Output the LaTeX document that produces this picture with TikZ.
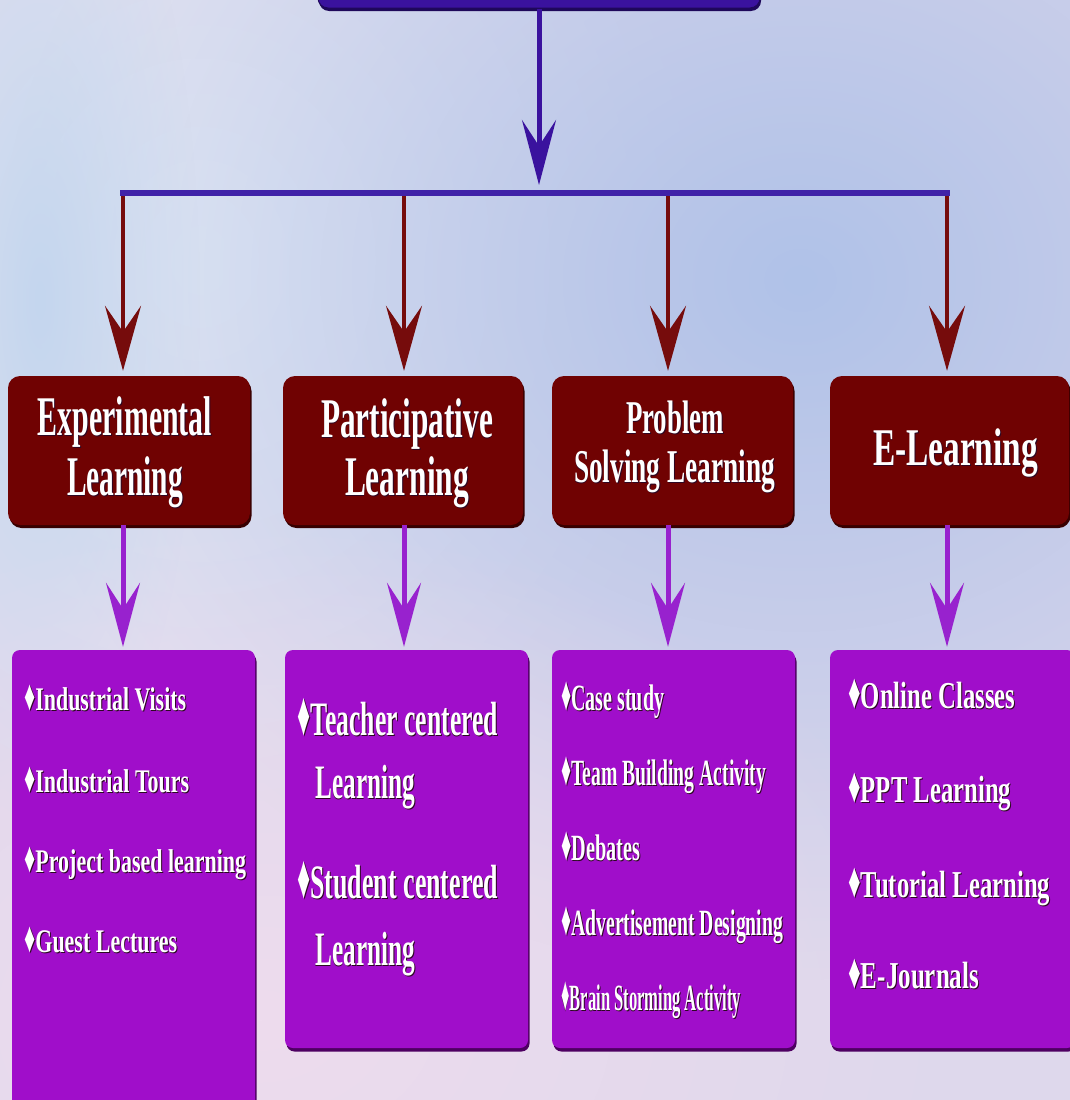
\documentclass[tikz,border=0pt]{standalone}
\usepackage{fontspec}
\setmainfont{Liberation Serif}
\usepackage{graphicx}
\usetikzlibrary{arrows.meta,shadows,fadings}
\definecolor{bgbase}{RGB}{222,216,236}
\definecolor{bgblue}{RGB}{176,194,232}
\definecolor{bgpink}{RGB}{238,220,238}
\definecolor{bglight}{RGB}{228,234,245}
\definecolor{bgstreak}{RGB}{196,214,238}
\definecolor{topblue}{RGB}{58,18,158}
\definecolor{topdark}{RGB}{30,8,90}
\definecolor{barblue}{RGB}{64,34,168}
\definecolor{maroonc}{RGB}{112,2,2}
\definecolor{maroondark}{RGB}{55,0,0}
\definecolor{mline}{RGB}{118,12,12}
\definecolor{purp}{RGB}{160,14,202}
\definecolor{purpdark}{RGB}{78,0,98}
\definecolor{parr}{RGB}{152,34,206}
\definecolor{shadowc}{RGB}{45,8,35}
\tikzfading[name=softfade, inner color=transparent!0, outer color=transparent!100]
\newcommand\dia{\scalebox{1}[1.3]{♦}}
\newcommand\shd[1]{\makebox[0pt][l]{\hspace{1.5pt}\raisebox{-1.5pt}{\color{shadowc}#1}}#1}
\newcommand\fw[2]{\resizebox{#1pt}{\height}{\shd{#2}}}
\tikzset{
  topbox/.style={rectangle, rounded corners=10pt, fill=topblue, draw=topdark, line width=1pt,
    minimum width=442pt, minimum height=48pt, inner sep=0pt,
    drop shadow={shadow xshift=1pt, shadow yshift=-3pt, fill=topdark, opacity=1}},
  mbox/.style={rectangle, rounded corners=12pt, fill=maroonc, minimum height=149pt, inner sep=0pt,
    drop shadow={shadow xshift=1.5pt, shadow yshift=-3pt, fill=maroondark, opacity=1}},
  pbox/.style={rectangle, rounded corners=8pt, fill=purp, inner sep=0pt,
    drop shadow={shadow xshift=1.5pt, shadow yshift=-3.5pt, fill=purpdark, opacity=1}},
  hdtext/.style={text=white, font=\bfseries\fontsize{56}{60}\selectfont, anchor=base, inner sep=0pt},
  itext/.style={text=white, anchor=base west, inner sep=0pt},
  marr/.style={draw=mline, line width=4.5pt, shorten >=5pt,
    -{Stealth[length=65pt, width=36pt, inset=26pt]}},
  parrow/.style={draw=parr, line width=5pt, shorten >=3pt,
    -{Stealth[length=64pt, width=34pt, inset=26pt]}},
  barr/.style={draw=topblue, line width=5pt, shorten >=8pt,
    -{Stealth[length=65pt, width=34pt, inset=26pt]}},
  barline/.style={draw=barblue, line width=6pt}
}
\begin{document}
\begin{tikzpicture}[x=1pt, y=-1pt]
\path[use as bounding box] (0,0) rectangle (1070,1100);
\clip (0,0) rectangle (1070,1100);
% background
\fill[bgbase] (0,0) rectangle (1070,1100);
\fill[bglight, path fading=softfade] (200,260) ellipse (520pt and 600pt);
\fill[bgblue, path fading=softfade] (800,280) ellipse (800pt and 700pt);
\fill[bgstreak, path fading=softfade] (40,300) ellipse (160pt and 520pt);
\fill[bgpink, path fading=softfade] (260,1020) ellipse (700pt and 500pt);

% top box
\node[topbox] (tb) at (539,-16) {};

% bar coordinates
\coordinate (hub) at (539,193);
\coordinate (bl) at (120,193);
\coordinate (br) at (950,193);
\coordinate (b1) at (123,193);
\coordinate (b2) at (404,193);
\coordinate (b3) at (668,193);
\coordinate (b4) at (947,193);

% maroon boxes
\node[mbox, minimum width=242pt] (m1) at (129,450.5) {};
\node[mbox, minimum width=240pt] (m2) at (403,450.5) {};
\node[mbox, minimum width=241pt] (m3) at (672.5,450.5) {};
\node[mbox, minimum width=239pt] (m4) at (949.5,450.5) {};

% purple boxes
\node[pbox, minimum width=243pt, minimum height=470pt] (p1) at (133.5,885) {};
\node[pbox, minimum width=243pt, minimum height=398pt] (p2) at (406.5,849) {};
\node[pbox, minimum width=243pt, minimum height=398pt] (p3) at (673.5,849) {};
\node[pbox, minimum width=245pt, minimum height=398pt] (p4) at (952.5,849) {};

% connectors
\draw[barr] (tb.south) -- (hub);
\foreach \i in {1,2,3,4} {
  \draw[marr] (b\i) -- (b\i |- m\i.north);
}
\draw[barline] (bl) -- (br);
\foreach \i in {1,2,3,4} {
  \draw[parrow] (m\i.south -| b\i) -- (p\i.north -| b\i);
}

% header texts
\node[hdtext] (h1a) at (125,435) {\fw{174}{Experimental}};
\node[hdtext] (h1b) at (125,495) {\fw{116}{Learning}};
\node[hdtext] (h2a) at (407,437) {\fw{172}{Participative}};
\node[hdtext] (h2b) at (407,495) {\fw{124}{Learning}};
\node[hdtext, font=\bfseries\fontsize{47}{50}\selectfont] (h3a) at (675,433) {\fw{98}{Problem}};
\node[hdtext, font=\bfseries\fontsize{47}{50}\selectfont] (h3b) at (674.5,482) {\fw{201}{Solving Learning}};
\node[hdtext, font=\bfseries\fontsize{53}{56}\selectfont] (h4a) at (955.5,465) {\fw{165}{E-Learning}};

% box 1 items
\begin{scope}[every node/.style={itext, font=\bfseries\fontsize{33}{36}\selectfont}]
\node (i11) at (24,710) {\fw{162}{\dia Industrial Visits}};
\node (i12) at (24,792) {\fw{165}{\dia Industrial Tours}};
\node (i13) at (24,872) {\fw{222}{\dia Project based learning}};
\node (i14) at (24,952) {\fw{153}{\dia Guest Lectures}};
\end{scope}
% box 2 items
\begin{scope}[every node/.style={itext, font=\bfseries\fontsize{48}{50}\selectfont}]
\node (i21) at (297,735) {\fw{201}{\dia Teacher centered}};
\node (i22) at (315,798) {\fw{100}{Learning}};
\node (i23) at (297,898) {\fw{201}{\dia Student centered}};
\node (i24) at (315,965) {\fw{100}{Learning}};
\end{scope}
% box 3 items
\begin{scope}[every node/.style={itext, font=\bfseries\fontsize{37}{40}\selectfont}]
\node (i31) at (561,710) {\fw{103}{\dia Case study}};
\node (i32) at (561,785) {\fw{205}{\dia Team Building Activity}};
\node (i33) at (561,860) {\fw{79}{\dia Debates}};
\node (i34) at (561,935) {\fw{222}{\dia Advertisement Designing}};
\node (i35) at (561,1010) {\fw{180}{\dia Brain Storming Activity}};
\end{scope}
% box 4 items
\begin{scope}[every node/.style={itext, font=\bfseries\fontsize{38}{40}\selectfont}]
\node (i41) at (848,708) {\fw{167}{\dia Online Classes}};
\node (i42) at (848,802) {\fw{163}{\dia PPT Learning}};
\node (i43) at (848,897) {\fw{202}{\dia Tutorial Learning}};
\node (i44) at (848,988) {\fw{131}{\dia E-Journals}};
\end{scope}
\end{tikzpicture}
\end{document}
